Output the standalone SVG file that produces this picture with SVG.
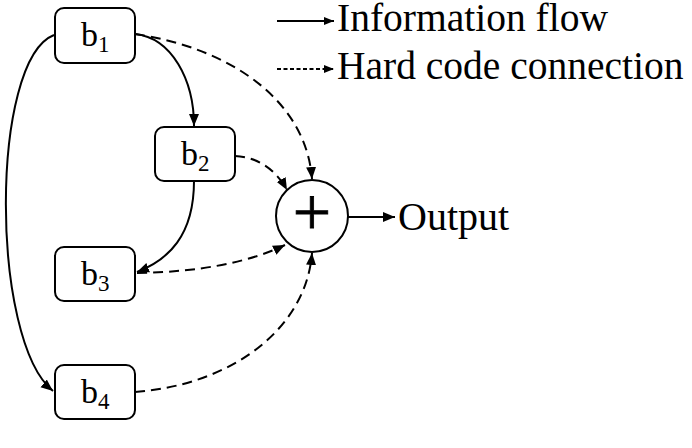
<svg xmlns="http://www.w3.org/2000/svg" width="692" height="448" viewBox="0 0 692 448">
<style>
.box{fill:#fff;stroke:#000;stroke-width:2}
.t{font-family:"Liberation Serif","Times New Roman",serif;fill:#000}
.b{font-size:34px}
.s{font-size:23px}
.c{fill:none;stroke:#000;stroke-width:2}
.d{stroke-dasharray:10 6}
.ld{stroke-dasharray:4 2.5}
</style>
<defs>
<marker id="ah" markerUnits="userSpaceOnUse" markerWidth="13" markerHeight="11" refX="12" refY="5" orient="auto">
<path d="M0,0 L12,5 L0,10 z" fill="#000"/>
</marker>
<marker id="ahs" markerUnits="userSpaceOnUse" markerWidth="11" markerHeight="9" refX="10" refY="4" orient="auto">
<path d="M0,0 L10,4 L0,8 z" fill="#000"/>
</marker>
</defs>
<g id="connectors">
<path class="c" d="M135,34 C172,38 194,80 194,126" marker-end="url(#ah)"/>
<path class="c d" d="M135,34 C230,48 306,100 312,179" marker-end="url(#ah)"/>
<path class="c d" d="M235,156 C258,157 276,170 287,190" marker-end="url(#ah)"/>
<path class="c" d="M194,181 C194,236 168,260 137,272" marker-end="url(#ah)"/>
<path class="c d" d="M137,273 C200,272 250,262 285,245" marker-end="url(#ah)"/>
<path class="c d" d="M135,392 C230,385 306,330 312,253" marker-end="url(#ah)"/>
<path class="c" d="M54,35 C-10,60 -10,340 53,391" marker-end="url(#ah)"/>
<path class="c" d="M348,217 L395,217" marker-end="url(#ah)"/>
</g>
<g id="legend">
<path class="c" d="M277,21 L334,21" marker-end="url(#ahs)"/>
<path class="c ld" d="M277,69 L334,69" marker-end="url(#ahs)"/>
<text class="t" x="337" y="31" font-size="39.5">Information flow</text>
<text class="t" x="337" y="79" font-size="39.5">Hard code connection</text>
</g>
<g id="b1"><rect class="box" x="55" y="8" width="80" height="55" rx="9"/><text class="t" x="81" y="46"><tspan class="b">b</tspan><tspan class="s" dy="6">1</tspan></text></g>
<g id="b2"><rect class="box" x="155" y="127" width="80" height="54" rx="9"/><text class="t" x="181" y="165"><tspan class="b">b</tspan><tspan class="s" dy="6">2</tspan></text></g>
<g id="b3"><rect class="box" x="55" y="247" width="80" height="54" rx="9"/><text class="t" x="81" y="285"><tspan class="b">b</tspan><tspan class="s" dy="6">3</tspan></text></g>
<g id="b4"><rect class="box" x="55" y="365" width="80" height="54" rx="9"/><text class="t" x="81" y="403"><tspan class="b">b</tspan><tspan class="s" dy="6">4</tspan></text></g>
<g id="sum"><circle cx="312" cy="216" r="36" fill="#fff" stroke="#000" stroke-width="2"/><text class="t" x="312" y="235" font-size="68" text-anchor="middle" stroke="#000" stroke-width="0.8">+</text></g>
<g id="output"><text class="t" x="398" y="230" font-size="40">Output</text></g>
</svg>
